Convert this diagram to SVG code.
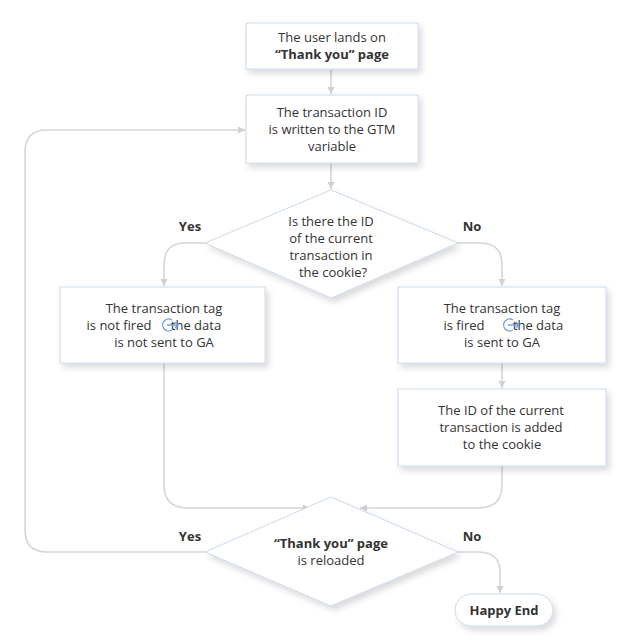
<svg xmlns="http://www.w3.org/2000/svg" width="631" height="642" viewBox="0 0 631 642">
<style>
.box{fill:#fff;stroke:#ccd8f0;stroke-width:1;filter:url(#sh)}
.t{font-family:"Open Sans",sans-serif;font-size:13px;fill:#333;text-anchor:middle}
.b{font-weight:bold}
.c{fill:none;stroke:#d6d6d6;stroke-width:1.6}
.lab{font-family:"Open Sans",sans-serif;font-size:13px;font-weight:bold;fill:#333;text-anchor:middle}
</style>
<defs>
<filter id="sh" x="-20%" y="-20%" width="150%" height="160%"><feDropShadow dx="3" dy="4" stdDeviation="3" flood-color="#000" flood-opacity="0.15"/></filter>
<marker id="a" markerWidth="8" markerHeight="8" refX="7" refY="4" orient="auto" markerUnits="userSpaceOnUse"><path d="M0,0.5 L7,4 L0,7.5z" fill="#d0d0d0"/></marker>
<g id="ic"><path d="M6,-5 A6,6 0 1 0 6,5" fill="none" stroke="#6d9ef0" stroke-width="1.3"/><path d="M1,0 H12 M9,-3 L12,0 L9,3" fill="none" stroke="#6d9ef0" stroke-width="1.3"/></g>
</defs>
<g id="connectors">
<path class="c" d="M331,69 V94" marker-end="url(#a)"/>
<path class="c" d="M331,163 V189" marker-end="url(#a)"/>
<path class="c" d="M205,243 H185 Q164,243 164,265 V286" marker-end="url(#a)"/>
<path class="c" d="M458,243 H480 Q502,243 502,265 V286" marker-end="url(#a)"/>
<path class="c" d="M502,363 V388" marker-end="url(#a)"/>
<path class="c" d="M164,363 V485 Q164,508 188,508 H310" marker-end="url(#a)"/>
<path class="c" d="M502,466 V485 Q502,508 478,508 H360" marker-end="url(#a)"/>
<path class="c" d="M205,552 H47 Q25,552 25,530 V152 Q25,130 47,130 H245" marker-end="url(#a)"/>
<path class="c" d="M458,552 H478 Q500,552 500,572 V593" marker-end="url(#a)"/>
</g>
<g id="n1"><rect class="box" x="246" y="23" width="172" height="46"/><text class="t" x="332" y="42">The user lands on</text><text class="t b" x="332" y="59">“Thank you” page</text></g>
<g id="n2"><rect class="box" x="246" y="95" width="172" height="68"/><text class="t" x="332" y="117">The transaction ID</text><text class="t" x="332" y="134">is written to the GTM</text><text class="t" x="332" y="151">variable</text></g>
<g id="d1"><polygon class="box" points="331,190 458,243 331,298 205,243"/><text class="t" x="331" y="226">Is there the ID</text><text class="t" x="331" y="243">of the current</text><text class="t" x="331" y="260">transaction in</text><text class="t" x="333" y="277">the cookie?</text></g>
<g id="n3"><rect class="box" x="60" y="287" width="205" height="76"/><text class="t" x="164" y="313">The transaction tag</text><text class="t" x="164" y="330"><tspan x="119">is not fired</tspan></text><text class="t" x="196" y="330">the data</text><use href="#ic" x="166" y="325"/><text class="t" x="164" y="347">is not sent to GA</text></g>
<g id="n4"><rect class="box" x="398" y="287" width="208" height="76"/><text class="t" x="502" y="313">The transaction tag</text><text class="t" x="464" y="330">is fired</text><text class="t" x="538" y="330">the data</text><use href="#ic" x="507" y="325"/><text class="t" x="502" y="347">is sent to GA</text></g>
<g id="n5"><rect class="box" x="398" y="389" width="208" height="77"/><text class="t" x="501" y="415">The ID of the current</text><text class="t" x="501" y="432">transaction is added</text><text class="t" x="502" y="449">to the cookie</text></g>
<g id="d2"><polygon class="box" points="331,497 458,552 331,606 205,552"/><text class="t b" x="331" y="548">“Thank you” page</text><text class="t" x="331" y="565">is reloaded</text></g>
<g id="n6"><rect class="box" x="455" y="594" width="98" height="32" rx="16"/><text class="t b" x="504" y="615">Happy End</text></g>
<g id="labels"><text class="lab" x="190" y="231">Yes</text><text class="lab" x="472" y="231">No</text><text class="lab" x="190" y="541">Yes</text><text class="lab" x="472" y="541">No</text></g>
</svg>
